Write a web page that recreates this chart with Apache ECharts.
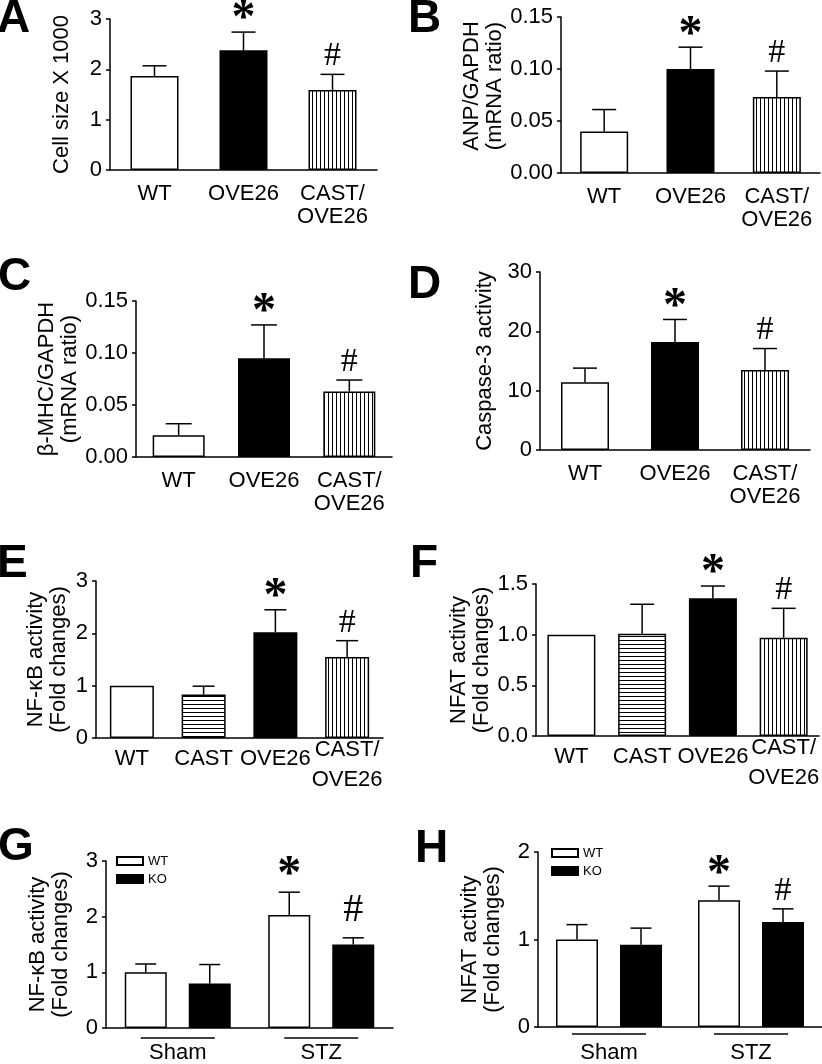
<!DOCTYPE html>
<html><head><meta charset="utf-8">
<script src="https://cdn.jsdelivr.net/npm/echarts@6/dist/echarts.min.js"></script>
<style>html,body{margin:0;padding:0;background:#fff}#c{width:822px;height:1064px}</style>
</head><body><div id="c"></div>
<script>
// ---------------- DATA ----------------
const A_categories = ['WT', 'OVE26', 'CAST/\nOVE26'];
const A_values = [1.87, 2.38, 1.59];
const A_errors = [0.20, 0.36, 0.31];
const A_marks = ['', '*', '#'];
const A_ticks = [0, 1, 2, 3];

const B_categories = ['WT', 'OVE26', 'CAST/\nOVE26'];
const B_values = [0.040, 0.100, 0.073];
const B_errors = [0.021, 0.021, 0.025];
const B_marks = ['', '*', '#'];
const B_ticks = [0, 0.05, 0.10, 0.15];

const C_categories = ['WT', 'OVE26', 'CAST/\nOVE26'];
const C_values = [0.021, 0.095, 0.063];
const C_errors = [0.011, 0.032, 0.011];
const C_marks = ['', '*', '#'];
const C_ticks = [0, 0.05, 0.10, 0.15];

const D_categories = ['WT', 'OVE26', 'CAST/\nOVE26'];
const D_values = [11.4, 18.2, 13.5];
const D_errors = [2.4, 3.8, 3.6];
const D_marks = ['', '*', '#'];
const D_ticks = [0, 10, 20, 30];

const E_categories = ['WT', 'CAST', 'OVE26', 'CAST/\nOVE26'];
const E_values = [1.00, 0.83, 2.02, 1.55];
const E_errors = [0, 0.16, 0.43, 0.31];
const E_marks = ['', '', '*', '#'];
const E_ticks = [0, 1, 2, 3];

const F_categories = ['WT', 'CAST', 'OVE26', 'CAST/\nOVE26'];
const F_values = [1.00, 1.01, 1.36, 0.97];
const F_errors = [0, 0.29, 0.12, 0.29];
const F_marks = ['', '', '*', '#'];
const F_ticks = [0, 0.5, 1.0, 1.5];

const G_categories = ['Sham', 'STZ'];
const G_WT_values = [1.00, 2.03];
const G_WT_errors = [0.15, 0.41];
const G_WT_marks = ['', '*'];
const G_KO_values = [0.80, 1.50];
const G_KO_errors = [0.34, 0.12];
const G_KO_marks = ['', '#'];
const G_ticks = [0, 1, 2, 3];

const H_categories = ['Sham', 'STZ'];
const H_WT_values = [1.00, 1.45];
const H_WT_errors = [0.17, 0.16];
const H_WT_marks = ['', '*'];
const H_KO_values = [0.94, 1.20];
const H_KO_errors = [0.19, 0.15];
const H_KO_marks = ['', '#'];
const H_ticks = [0, 1, 2];

const yNames = {
  A: 'Cell size X 1000',
  B: 'ANP/GAPDH\n(mRNA ratio)',
  C: '\u03B2-MHC/GAPDH\n(mRNA ratio)',
  D: 'Caspase-3 activity',
  E: 'NF-\u03BAB activity\n(Fold changes)',
  F: 'NFAT activity\n(Fold changes)',
  G: 'NF-\u03BAB activity\n(Fold changes)',
  H: 'NFAT activity\n(Fold changes)'
};

// ---------------- STYLE / LAYOUT ----------------
const FONT = 'Liberation Sans';
function stripe(vertical) {
  const c = document.createElement('canvas');
  c.width = 4; c.height = 4;
  const g = c.getContext('2d');
  g.fillStyle = '#fff'; g.fillRect(0, 0, 4, 4);
  g.fillStyle = '#000';
  if (vertical) g.fillRect(0, 0, 1, 4); else g.fillRect(0, 0, 4, 1);
  return { image: c, repeat: 'repeat' };
}
const fillByCategory = {
  'WT': '#ffffff',
  'CAST': stripe(false),
  'OVE26': '#000000',
  'CAST/\nOVE26': stripe(true)
};
const fillBySeries = { WT: '#ffffff', KO: '#000000' };

const layout = {
  A: { grid: [110, 19, 267, 151], barW: 48, nameGap: 37, namePad: 0, letter: [-3, -4], dec: 0, lab: 'top' },
  B: { grid: [561, 17, 259, 156], barW: 48, nameGap: 52, namePad: 18, letter: [408, -4], dec: 2, lab: 'top' },
  C: { grid: [136, 301, 256, 156], barW: 52, nameGap: 51, namePad: 0, letter: [-2, 254], dec: 2, lab: 'top' },
  D: { grid: [540, 272, 270, 178], barW: 48, nameGap: 44, namePad: 0, letter: [408, 262], dec: 0, lab: 'top' },
  E: { grid: [96, 581, 287, 157], barW: 44, nameGap: 26, namePad: 0, letter: [-3, 541], dec: 0, lab: 'mid' },
  F: { grid: [536, 584, 284, 152], barW: 48, nameGap: 42, namePad: 0, letter: [410, 541], dec: 1, lab: 'mid' },
  G: { grid: [106, 861, 287, 171], barW: 42, gap: 22, nameGap: 34, namePad: 0, letter: [-2, 824], dec: 0, lab: 'group',
       legend: [116, 854], labMargin: 14, lineDy: 10, lineW: 74 },
  H: { grid: [538, 852, 284, 178], barW: 42, gap: 22, nameGap: 34, namePad: 0, letter: [415, 826], dec: 0, lab: 'group',
       legend: [551, 846], labMargin: 15, lineDy: 7, lineW: 74 }
};
const markFont = {
  '*': { fontFamily: 'Liberation Serif', fontWeight: 'bold', fontSize: 48, dy: 8 },
  '#': { fontFamily: 'Liberation Serif', fontWeight: 'normal', fontSize: 34, dy: 2 }
};
const markGap = { A: 20, B: 20, C: 20, D: 20, E: 20, F: 20, G: 25, H: 20 };
const markGapHash = { G: 29 };
const hashSize = { G: 40 };

const panels = [
  { id: 'A', cats: A_categories, ticks: A_ticks, series: [{ name: 'A', values: A_values, errors: A_errors, marks: A_marks }] },
  { id: 'B', cats: B_categories, ticks: B_ticks, series: [{ name: 'B', values: B_values, errors: B_errors, marks: B_marks }] },
  { id: 'C', cats: C_categories, ticks: C_ticks, series: [{ name: 'C', values: C_values, errors: C_errors, marks: C_marks }] },
  { id: 'D', cats: D_categories, ticks: D_ticks, series: [{ name: 'D', values: D_values, errors: D_errors, marks: D_marks }] },
  { id: 'E', cats: E_categories, ticks: E_ticks, series: [{ name: 'E', values: E_values, errors: E_errors, marks: E_marks }] },
  { id: 'F', cats: F_categories, ticks: F_ticks, series: [{ name: 'F', values: F_values, errors: F_errors, marks: F_marks }] },
  { id: 'G', cats: G_categories, ticks: G_ticks, grouped: true, series: [
      { name: 'WT', values: G_WT_values, errors: G_WT_errors, marks: G_WT_marks },
      { name: 'KO', values: G_KO_values, errors: G_KO_errors, marks: G_KO_marks }] },
  { id: 'H', cats: H_categories, ticks: H_ticks, grouped: true, series: [
      { name: 'WT', values: H_WT_values, errors: H_WT_errors, marks: H_WT_marks },
      { name: 'KO', values: H_KO_values, errors: H_KO_errors, marks: H_KO_marks }] }
];

// ---------------- BUILD OPTION ----------------
const grids = [], xAxes = [], yAxes = [], series = [], titles = [], legends = [];
const axisLineStyle = { color: '#000', width: 1.5 };

panels.forEach((p, i) => {
  const L = layout[p.id];
  grids.push({ left: L.grid[0], top: L.grid[1], width: L.grid[2], height: L.grid[3], containLabel: false });
  titles.push({ text: p.id, left: L.letter[0], top: L.letter[1], padding: 0,
    textStyle: { fontSize: 46, fontWeight: 'bold', color: '#000', fontFamily: FONT } });

  let axisLabel;
  if (L.lab === 'top') {
    axisLabel = { color: '#000', fontSize: 22, lineHeight: 23, margin: 12, fontFamily: FONT, interval: 0 };
  } else if (L.lab === 'mid') {
    axisLabel = { interval: 0, margin: 21, verticalAlign: 'middle',
      formatter: v => v.indexOf('\n') >= 0
        ? '{sp|}\n' + v.split('\n').map(t => '{a|' + t + '}').join('\n')
        : '{a|' + v + '}',
      rich: {
        a: { fontSize: 22, lineHeight: 30, color: '#000', fontFamily: FONT },
        sp: { width: 1, height: 11, lineHeight: 11 }
      } };
  } else {
    axisLabel = { color: '#000', fontSize: 22, lineHeight: 22, margin: L.labMargin, verticalAlign: 'top', fontFamily: FONT, interval: 0 };
  }
  xAxes.push({ gridIndex: i, type: 'category', data: p.cats,
    axisLine: { show: true, lineStyle: axisLineStyle }, axisTick: { show: false },
    axisLabel: axisLabel, splitLine: { show: false } });

  const tmax = p.ticks[p.ticks.length - 1];
  const step = p.ticks[1] - p.ticks[0];
  yAxes.push({ gridIndex: i, type: 'value', min: p.ticks[0], max: tmax, interval: step,
    axisLine: { show: true, lineStyle: axisLineStyle },
    axisTick: { show: true, length: 4, lineStyle: axisLineStyle },
    splitLine: { show: false },
    axisLabel: { color: '#000', fontSize: 22, margin: 8, fontFamily: FONT,
      formatter: v => Number(v).toFixed(L.dec) },
    name: yNames[p.id], nameLocation: 'middle', nameRotate: 90, nameGap: L.nameGap,
    nameTextStyle: { color: '#000', fontSize: 22, lineHeight: 23, fontFamily: FONT,
      padding: [0, 0, 0, L.namePad] } });

  const nS = p.series.length;
  p.series.forEach((s, k) => {
    const isGroup = !!p.grouped;
    series.push({
      type: 'bar', name: isGroup ? s.name : p.id, xAxisIndex: i, yAxisIndex: i,
      barWidth: L.barW, barGap: isGroup ? (L.gap / L.barW * 100) + '%' : '0%',
      animation: false, silent: true,
      itemStyle: { color: isGroup ? fillBySeries[s.name] : '#fff', borderColor: '#000', borderWidth: 1.5 },
      data: s.values.map((v, j) => isGroup ? v : ({ value: v, itemStyle: { color: fillByCategory[p.cats[j]] } }))
    });
    const offset = isGroup ? (k - (nS - 1) / 2) * (L.barW + L.gap) : 0;
    const capW = L.barW / 2;
    series.push({
      type: 'custom', xAxisIndex: i, yAxisIndex: i, animation: false, silent: true, z: 5,
      data: s.values.map((v, j) => [j, v, v + s.errors[j]]),
      renderItem: function (params, api) {
        const j = params.dataIndex;
        const base = api.coord([api.value(0), api.value(1)]);
        const top = api.coord([api.value(0), api.value(2)]);
        const x = base[0] + offset;
        const ch = [];
        if (s.errors[j] > 0) {
          ch.push({ type: 'line', shape: { x1: x, y1: base[1], x2: x, y2: top[1] }, style: { stroke: '#000', lineWidth: 1.5 } });
          ch.push({ type: 'line', shape: { x1: x - capW / 2, y1: top[1], x2: x + capW / 2, y2: top[1] }, style: { stroke: '#000', lineWidth: 1.5 } });
        }
        const m = s.marks[j];
        if (m) {
          const mf = markFont[m];
          const gap = (m === '#' && markGapHash[p.id]) ? markGapHash[p.id] : markGap[p.id];
          const size = (m === '#' && hashSize[p.id]) ? hashSize[p.id] : mf.fontSize;
          ch.push({ type: 'text', style: { text: m, x: x, y: top[1] - gap + mf.dy, align: 'center', verticalAlign: 'middle',
            fontSize: size, fontFamily: mf.fontFamily, fontWeight: mf.fontWeight, fill: '#000' } });
        }
        return { type: 'group', children: ch };
      }
    });
  });

  if (p.grouped) {
    // bracket line under each group label
    series.push({
      type: 'custom', xAxisIndex: i, yAxisIndex: i, animation: false, silent: true, clip: false,
      data: p.cats.map((c, j) => [j, p.ticks[0]]),
      renderItem: function (params, api) {
        const c = api.coord([api.value(0), api.value(1)]);
        const y = c[1] + L.lineDy;
        return { type: 'line', shape: { x1: c[0] - L.lineW / 2, y1: y, x2: c[0] + L.lineW / 2, y2: y },
          style: { stroke: '#000', lineWidth: 1.5 } };
      }
    });
    legends.push({ data: p.series.map(s => s.name), orient: 'vertical', left: L.legend[0], top: L.legend[1],
      padding: 0, itemGap: 4, itemWidth: 26, itemHeight: 8, icon: 'rect', selectedMode: false,
      textStyle: { fontSize: 13, lineHeight: 14, color: '#000', fontFamily: FONT } });
  }
});

const chart = echarts.init(document.getElementById('c'), null, { renderer: 'canvas' });
chart.setOption({
  animation: false,
  backgroundColor: '#fff',
  textStyle: { fontFamily: FONT },
  title: titles,
  legend: legends,
  grid: grids,
  xAxis: xAxes,
  yAxis: yAxes,
  series: series
});
</script></body></html>
